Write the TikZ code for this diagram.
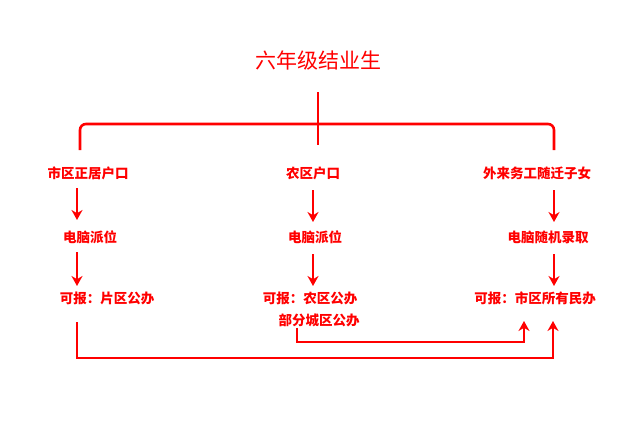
\documentclass[tikz,border=0pt]{standalone}
\usepackage{fontspec}
\newfontfamily\cjk{Noto Sans CJK SC}
\usetikzlibrary{arrows.meta}
\begin{document}
\begin{tikzpicture}[x=1pt,y=-1pt,
  lab/.style={text=red,font=\cjk\bfseries\fontsize{13.5}{15}\selectfont,inner sep=1pt},
  ln/.style={draw=red,line width=2.6pt},
  arr/.style={ln,-{Stealth[length=10pt,width=11pt]}}]
\useasboundingbox (0,0) rectangle (636,442);
\node[text=red,font=\cjk\fontsize{21}{24}\selectfont] (t) at (318,60) {六年级结业生};
\node[lab] (a1) at (88,173) {市区正居户口};
\node[lab] (b1) at (313,173) {农区户口};
\node[lab] (c1) at (537,173) {外来务工随迁子女};
\node[lab] (a2) at (90,237) {电脑派位};
\node[lab] (b2) at (315,237) {电脑派位};
\node[lab] (c2) at (548,237) {电脑随机录取};
\node[lab] (a3) at (107,298) {可报：片区公办};
\node[lab] (b3) at (310,298) {可报：农区公办};
\node[lab] (b4) at (319,320) {部分城区公办};
\node[lab] (c3) at (535,298) {可报：市区所有民办};
\coordinate (top) at (318,92);
\draw[ln] (top) -- (318,145);
\draw[ln,rounded corners=6pt] (80,150) -- (80,124) -- (554,124) -- (554,150);
\draw[arr] (77,188) -- (77,220);
\draw[arr] (77,252) -- (77,286);
\draw[arr] (313,190) -- (313,222);
\draw[arr] (313,254) -- (313,286);
\draw[arr] (554,190) -- (554,222);
\draw[arr] (554,254) -- (554,286);
\draw[arr] (77,322) -- (77,358) -- (553,358) -- (553,321);
\draw[arr] (b4.south -| 297,0) -- (297,342) -- (524,342) -- (524,321);
\end{tikzpicture}
\end{document}
